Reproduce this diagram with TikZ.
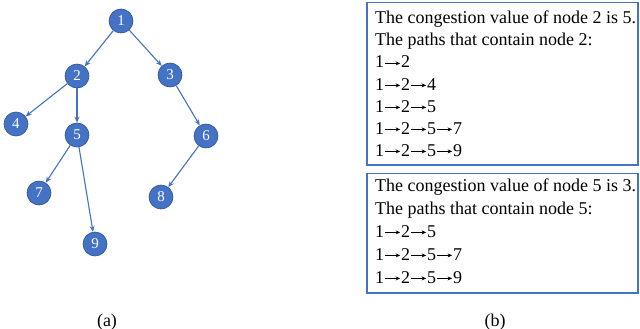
\documentclass[tikz,border=0pt]{standalone}
\usepackage{fontspec}
\setmainfont{Liberation Serif}
\usetikzlibrary{arrows.meta}
\definecolor{obl}{HTML}{4472C4}
\definecolor{obd}{HTML}{2F528F}
\newcommand{\rarr}{\kern0.6pt\tikz[baseline=0pt]{\draw[black,line width=0.75pt,-{Stealth[length=4.5pt,width=4pt]}] (0pt,4.6pt) -- (15pt,4.6pt);}\kern0.6pt}
\begin{document}
\begin{tikzpicture}[x=1pt,y=-1pt,
  tn/.style={circle,fill=obl,draw=obd,line width=0.6pt,minimum size=24pt,inner sep=0pt,text=white,font=\fontsize{15}{15}\selectfont},
  ed/.style={draw=obl,line width=1.1pt,-{Stealth[length=6pt,width=5pt]}},
  pbox/.style={draw=obl,line width=1.4pt,fill=none},
  ln/.style={anchor=base west,inner sep=0pt,font=\fontsize{18}{18}\selectfont},
  figcap/.style={anchor=base,inner sep=0pt,font=\fontsize{18}{18}\selectfont}]
\useasboundingbox (0,0) rectangle (640,329);
% tree
\node[tn] (n1) at (121,21) {1};
\node[tn] (n2) at (77,76) {2};
\node[tn] (n3) at (170,75) {3};
\node[tn] (n4) at (16,124) {4};
\node[tn] (n5) at (77,135) {5};
\node[tn] (n6) at (206,136) {6};
\node[tn] (n7) at (39,193) {7};
\node[tn] (n8) at (161,197) {8};
\node[tn] (n9) at (95,244) {9};
\draw[ed] (n1) -- (n2);
\draw[ed] (n1) -- (n3);
\draw[ed] (n2) -- (n4);
\draw[ed] (n2) -- (n5);
\draw[ed] (n3) -- (n6);
\draw[ed] (n5) -- (n7);
\draw[ed] (n5) -- (n9);
\draw[ed] (n6) -- (n8);
% boxes
\draw[pbox] (367,2.5) rectangle (638,165);
\draw[pbox] (367,173.5) rectangle (638,293);
\node[ln] (a1) at (375,24) {The congestion value of node 2 is 5.};
\node[ln] (a2) at (375,46) {The paths that contain node 2:};
\node[ln] (a3) at (375,68) {1\rarr 2};
\node[ln] (a4) at (375,90) {1\rarr 2\rarr 4};
\node[ln] (a5) at (375,112) {1\rarr 2\rarr 5};
\node[ln] (a6) at (375,134) {1\rarr 2\rarr 5\rarr 7};
\node[ln] (a7) at (375,156) {1\rarr 2\rarr 5\rarr 9};
\node[ln] (b1) at (375,191) {The congestion value of node 5 is 3.};
\node[ln] (b2) at (375,214) {The paths that contain node 5:};
\node[ln] (b3) at (375,237) {1\rarr 2\rarr 5};
\node[ln] (b4) at (375,260) {1\rarr 2\rarr 5\rarr 7};
\node[ln] (b5) at (375,283) {1\rarr 2\rarr 5\rarr 9};
% captions
\node[figcap] (ca) at (107,326) {(a)};
\node[figcap] (cb) at (495,326) {(b)};
\end{tikzpicture}
\end{document}
